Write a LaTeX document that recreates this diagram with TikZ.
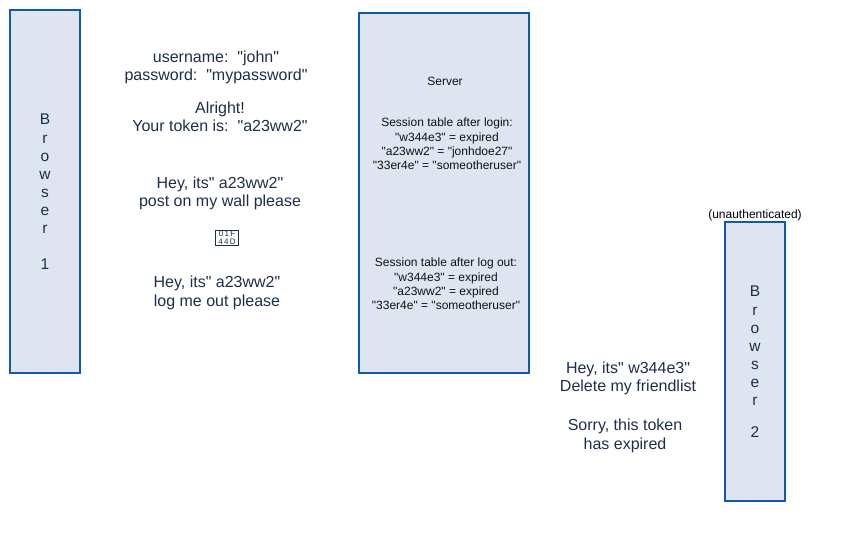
\documentclass[tikz,border=0pt]{standalone}
\usepackage{fontspec}
\newfontfamily\plainlib{Liberation Sans}
\definecolor{boxfill}{HTML}{DEE5F1}
\definecolor{boxline}{HTML}{0F5CA4}
\definecolor{msgtext}{HTML}{1B2F4B}
\definecolor{srvtext}{HTML}{111111}
\newcommand{\msgfont}{\plainlib\fontsize{16}{18.4}\selectfont}
\newcommand{\srvfont}{\plainlib\fontsize{12}{14.3}\selectfont}
\tikzset{
  x=1pt,y=-1pt,
  panel/.style={draw=boxline,fill=boxfill,line width=2pt,anchor=north west,inner sep=0pt,outer sep=0pt},
  msg/.style={text=msgtext,align=center,font=\msgfont,inner sep=0pt},
  srv/.style={text=srvtext,align=center,font=\srvfont,inner sep=0pt},
  vert/.style={text=msgtext,align=center,font=\plainlib\fontsize{15.5}{18.1}\selectfont,inner sep=0pt},
}
\begin{document}
\begin{tikzpicture}
\useasboundingbox (0,0) rectangle (848,547);
\node[panel,minimum width=70pt,minimum height=363pt] (browserA) at (10,10) {};
\node[panel,minimum width=170pt,minimum height=360pt] (server) at (359,13) {};
\node[panel,minimum width=60pt,minimum height=279pt] (browserB) at (725,222) {};
\node[vert] (labelA) at (45,192) {B\\r\\o\\w\\s\\e\\r\\[18.1pt]1};
\node[vert] (labelB) at (755,362) {B\\r\\o\\w\\s\\e\\r\\[14pt]2};
\node[msg] (login) at (216,67.5) {username:\ \ "john"\\password:\ \ "mypassword"};
\node[msg] (token) at (220,116.5) {Alright!\\Your token is:\ \ "a23ww2"};
\node[msg] (post) at (220,193.5) {Hey, its" a23ww2"\\post on my wall please};
\node[draw=msgtext,line width=0.8pt,inner sep=0pt,minimum width=23pt,minimum height=15.5pt,text=msgtext,align=center,font=\plainlib\fontsize{8}{7.6}\selectfont] (glyph) at (227,238) {0\,1\,F\\4\,4\,D};
\node[msg] (logout) at (217,293) {Hey, its" a23ww2"\\log me out please};
\node[srv] (srvname) at (445,81) {Server};
\node[srv] (tableA) at (447,144) {Session table after login:\\"w344e3" = expired\\"a23ww2" = "jonhdoe27"\\"33er4e" = "someotheruser"};
\node[srv] (tableB) at (446,284) {Session table after log out:\\"w344e3" = expired\\"a23ww2" = expired\\"33er4e" = "someotheruser"};
\node[srv,text=black] (unauth) at (755,215) {(unauthenticated)};
\node[msg] (delete) at (628,378.5) {Hey, its" w344e3"\\Delete my friendlist};
\node[msg] (sorry) at (625,436) {Sorry, this token\\has expired};
\end{tikzpicture}
\end{document}
